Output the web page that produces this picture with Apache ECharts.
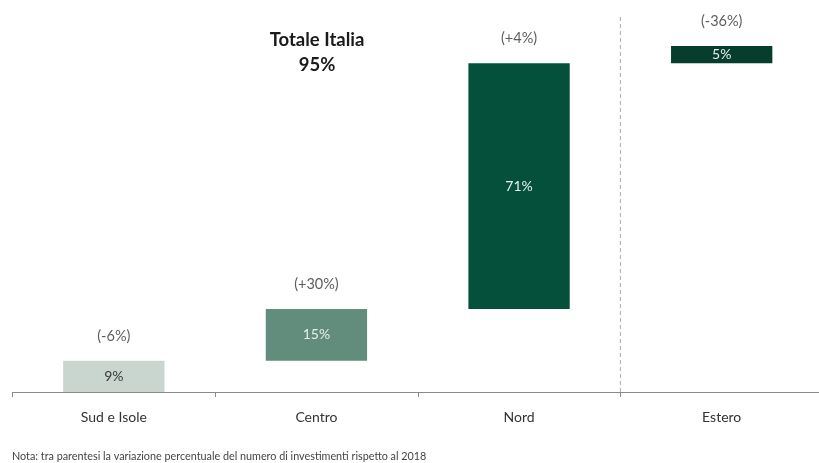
<!DOCTYPE html>
<html>
<head>
<meta charset="utf-8">
<script src="https://cdn.jsdelivr.net/npm/echarts@6/dist/echarts.min.js"></script>
<style>
  html, body { margin: 0; padding: 0; background: #fff; }
  #chart { width: 819px; height: 463px; }
</style>
</head>
<body>
<div id="chart"></div>
<script>
// Distribuzione degli investimenti per area geografica
const categories = ['Sud e Isole', 'Centro', 'Nord', 'Estero'];
const shares = [9, 15, 71, 5];
const changes = ['(-6%)', '(+30%)', '(+4%)', '(-36%)'];
const barColors = ['#c9d6d0', '#628d7c', '#04503b', '#063d2d'];
const valueLabelColors = ['#3a3a3a', '#e6efe9', '#e6efe9', '#e6efe9'];
const totalLabel = 'Totale Italia';
const totalValue = '95%';
const note = 'Nota: tra parentesi la variazione percentuale del numero di investimenti rispetto al 2018';

// invisible offsets so each block starts where the previous one ends
const offsets = [];
let running = 0;
shares.forEach(v => { offsets.push(running); running += v; });

const FONT = 'Lato, "Noto Sans", sans-serif';

const chart = echarts.init(document.getElementById('chart'));
chart.setOption({
  animation: false,
  grid: {
    left: 12.5, width: 810.5, top: 11.4, height: 380.6,
    outerBoundsMode: 'none'
  },
  xAxis: [{
    type: 'category',
    data: categories,
    axisLine: { lineStyle: { color: '#8a8a8a', width: 1 } },
    axisTick: { show: true, length: 5, lineStyle: { color: '#8a8a8a' } },
    axisLabel: { color: '#333', fontSize: 14, fontFamily: FONT, margin: 18 }
  }, {
    type: 'value', min: 0, max: 4, show: false
  }],
  yAxis: { type: 'value', min: 0, max: 110, show: false },
  graphic: [{
    type: 'text', x: 317, y: 28,
    style: {
      text: totalLabel + '\n' + totalValue,
      textAlign: 'center',
      font: 'bold 18.5px ' + FONT, fill: '#1a1a1a', lineHeight: 25
    }
  }, {
    type: 'text', x: 12, y: 451,
    style: { text: note, font: '10.8px ' + FONT, fill: '#444' }
  }],
  series: [{
    type: 'bar', stack: 'w', barWidth: '50%',
    data: offsets,
    itemStyle: { color: 'transparent' },
    silent: true
  }, {
    type: 'bar', stack: 'w', barWidth: '50%',
    data: shares.map((v, i) => ({
      value: v,
      itemStyle: { color: barColors[i] },
      label: { color: valueLabelColors[i] }
    })),
    label: {
      show: true, position: 'inside', fontSize: 14, fontFamily: FONT,
      formatter: p => p.value + '%'
    }
  }, {
    // change labels placed just above each block
    type: 'scatter', symbolSize: 0,
    data: shares.map((v, i) => offsets[i] + v),
    label: {
      show: true, position: 'top', distance: 17, color: '#333',
      fontSize: 14.5, fontFamily: FONT,
      formatter: p => changes[p.dataIndex]
    }
  }, {
    // dashed separator between domestic and foreign
    type: 'line', xAxisIndex: 1, clip: false, symbol: 'none',
    data: [[3, 0], [3, 109]],
    lineStyle: { color: '#aaaaaa', type: [4, 3], width: 1 }
  }]
});
</script>
</body>
</html>
